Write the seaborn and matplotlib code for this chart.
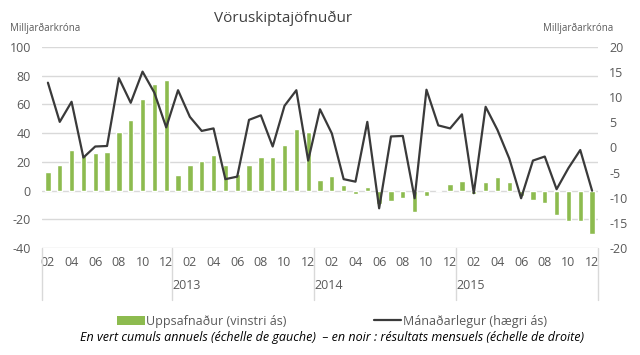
import numpy as np
import pandas as pd
import matplotlib
matplotlib.use("Agg")
import matplotlib.pyplot as plt
import seaborn as sns
from matplotlib.patches import Patch
from matplotlib.lines import Line2D

# ---- data ----
months = (["02", "03", "04", "05", "06", "07", "08", "09", "10", "11", "12"]
          + ["01", "02", "03", "04", "05", "06", "07", "08", "09", "10", "11", "12"] * 3)
years = [2012] * 11 + [2013] * 12 + [2014] * 12 + [2015] * 12
cumulative = [13, 18, 28, 25, 26, 27, 41, 49, 64, 74, 77,
              11, 17.5, 20.5, 24.5, 18, 11.5, 17.5, 23.5, 23.5, 31.5, 43, 40.5,
              7.6, 10.3, 4.2, -2.6, 2.2, -9.7, -7.6, -5.5, -15.2, -4, 0.6, 4.4,
              7, -2.2, 5.8, 9.3, 5.8, -3.8, -6.3, -8.6, -16.9, -21.5, -21.5, -30]
monthly = [12.9, 5.1, 9.1, -2.0, 0.2, 0.3, 13.8, 8.9, 15.1, 10.9, 4.0,
           11.4, 6.1, 3.3, 3.8, -6.3, -5.8, 5.5, 6.4, 0.2, 8.3, 11.4, -2.6,
           7.6, 2.8, -6.3, -6.8, 5.1, -12.1, 2.2, 2.3, -10.1, 11.5, 4.4, 3.8,
           6.6, -9.1, 8.1, 3.5, -2.2, -10.1, -2.6, -1.8, -8.3, -4.1, -0.5, -8.6]
year_labels = ["2013", "2014", "2015"]
left_ticks = [-40, -20, 0, 20, 40, 60, 80, 100]
right_ticks = [-20, -15, -10, -5, 0, 5, 10, 15, 20]

title = "Vöruskiptajöfnuður"
unit = "Milljarðarkróna"
bar_name = "Uppsafnaður (vinstri ás)"
line_name = "Mánaðarlegur (hægri ás)"
note = "En vert cumuls annuels (échelle de gauche)  – en noir : résultats mensuels (échelle de droite)"

df = pd.DataFrame({
    "key": [f"{y}-{m}" for y, m in zip(years, months)],
    "idx": np.arange(len(months)),
    "month": months,
    "year": years,
    "cumulative": cumulative,
    "monthly": monthly,
})

# ---- style ----
sns.set_theme(style="white")
plt.rcParams["font.family"] = ["Open Sans", "DejaVu Sans"]

GREEN = "#8dbb4f"
LINE = "#3a3a3a"
GRAY = "#595959"
GRID = "#d9d9d9"

fig = plt.figure(figsize=(6.4, 3.55), dpi=100)
ax = fig.add_axes([42 / 640, 1 - 248 / 355, (598 - 42) / 640, (248 - 47) / 355])

sns.barplot(data=df, x="key", y="cumulative", order=list(df["key"]),
            color=GREEN, saturation=1, width=0.45, ax=ax, zorder=2)
ax.set_xlim(-0.5, len(months) - 0.5)
ax.set_ylim(-40, 100)
ax.set_yticks(left_ticks)
ax.set_yticklabels([str(t) for t in left_ticks], fontsize=9, color=GRAY)
ax.yaxis.grid(True, color=GRID, linewidth=1)
ax.set_axisbelow(True)
for s in ax.spines.values():
    s.set_visible(False)
ax.tick_params(axis="both", length=0)
ax.tick_params(axis="y", pad=8)

even_idx = [i for i, m in enumerate(months) if int(m) % 2 == 0]
ax.set_xticks(even_idx)
ax.set_xticklabels([months[i] for i in even_idx], fontsize=9, color=GRAY)
ax.tick_params(axis="x", pad=6)
ax.set_xlabel("")
ax.set_ylabel("")

ax2 = ax.twinx()
sns.lineplot(data=df, x="idx", y="monthly", color=LINE, linewidth=1.6, ax=ax2)
ax2.set_ylim(-20, 20)
ax2.set_yticks(right_ticks)
ax2.set_yticklabels([str(t) for t in right_ticks], fontsize=9, color=GRAY)
ax2.tick_params(axis="y", length=0, pad=8)
ax2.set_xlim(-0.5, len(months) - 0.5)
ax2.set_xlabel("")
ax2.set_ylabel("")
for s in ax2.spines.values():
    s.set_visible(False)

# group separators and year labels
bounds = [-0.5] + [i - 0.5 for i in range(1, len(years)) if years[i] != years[i - 1]] + [len(years) - 0.5]
trans = ax.get_xaxis_transform()
for b in bounds:
    ax.plot([b, b], [0, -0.26], transform=trans, color=GRID, linewidth=1, clip_on=False)
for b, lab in zip(bounds[1:-1], year_labels):
    ax.text(b, -0.185, lab, transform=trans, ha="left", va="center", fontsize=9, color=GRAY)

# texts
fig.text(283 / 640, 1 - 18 / 355, title, ha="center", va="center", fontsize=11, color="#404040")
fig.text(10 / 640, 1 - 28 / 355, unit, ha="left", va="center", fontsize=7, color=GRAY)
fig.text(543 / 640, 1 - 28 / 355, unit, ha="left", va="center", fontsize=7, color=GRAY)

handles = [Patch(facecolor=GREEN, edgecolor="none"), Line2D([0], [0], color=LINE, linewidth=1.6)]
fig.legend(handles, [bar_name, line_name], loc="center", bbox_to_anchor=(332 / 640, 1 - 321 / 355),
           ncol=2, frameon=False, fontsize=9, handlelength=2.2, handletextpad=0.1,
           columnspacing=7, labelcolor=GRAY, handleheight=0.75)
fig.text(332 / 640, 1 - 337 / 355, note, ha="center", va="center", fontsize=9,
         style="italic", color="black")

fig.savefig("out.png", dpi=100)
